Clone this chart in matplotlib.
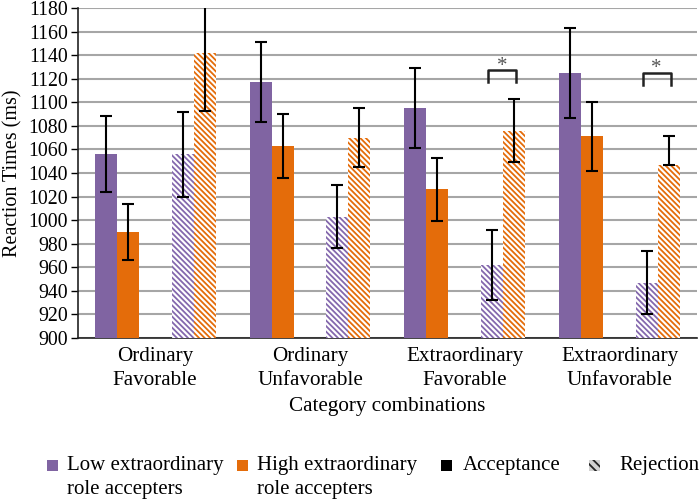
import matplotlib.pyplot as plt
from matplotlib.patches import Rectangle
import numpy as np

plt.rcParams['font.family'] = ['Liberation Serif', 'DejaVu Serif']
plt.rcParams['hatch.linewidth'] = 1.3

categories = ['Ordinary\nFavorable', 'Ordinary\nUnfavorable',
              'Extraordinary\nFavorable', 'Extraordinary\nUnfavorable']

# mean reaction times (ms)
low_acc = [1056, 1117, 1095, 1125]
high_acc = [990, 1063, 1026, 1071]
low_rej = [1056, 1003, 962, 947]
high_rej = [1142, 1070, 1076, 1047]

# error bar half-widths
low_acc_err = [32, 34, 34, 38]
high_acc_err = [24, 27, 27, 29]
low_rej_err = [36, 27, 30, 27]
high_rej_err = [49, 25, 27, 24]

purple = '#8064a2'
orange = '#e46c0a'

fig = plt.figure(figsize=(7, 5), dpi=100)
ax = fig.add_axes([0.111, 0.324, 0.885, 0.66])

x = np.arange(len(categories))
w = 0.142
offs = [-0.319, -0.177, 0.177, 0.319]
err_kw = dict(ecolor='black', elinewidth=1.5, capsize=4, capthick=1.5)
hatch = '\\\\\\\\\\\\'

ax.bar(x + offs[0], low_acc, w, color=purple, yerr=low_acc_err, error_kw=err_kw, zorder=3)
ax.bar(x + offs[1], high_acc, w, color=orange, yerr=high_acc_err, error_kw=err_kw, zorder=3)
ax.bar(x + offs[2], low_rej, w, color='white', edgecolor='#8468ad', hatch=hatch,
       linewidth=0, yerr=low_rej_err, error_kw=err_kw, zorder=3)
# last bar hides the lower half of its error bar
high_rej_lo = [e if i < 3 else 0 for i, e in enumerate(high_rej_err)]
ax.bar(x + offs[3], high_rej, w, color='white', edgecolor=orange, hatch=hatch,
       linewidth=0, yerr=[high_rej_lo, high_rej_err], error_kw=err_kw, zorder=3)

# significance brackets
for g, top in [(2, 1127), (3, 1125)]:
    xl = g + offs[2] - 0.03
    xr = g + offs[3] + 0.01
    ax.plot([xl, xl, xr, xr], [top - 10, top, top, top - 10], color='#222222', lw=1.8,
            zorder=4, clip_on=False)
    ax.text((xl + xr) / 2, top + 3.5, '*', ha='center', va='center', fontsize=15,
            color='#555555')

ax.set_xlim(-0.5, 3.5)
ax.set_ylim(900, 1180)
ax.set_yticks(np.arange(900, 1181, 20))
ax.set_xticks(x)
ax.set_xticklabels(categories, fontsize=15.2, linespacing=1.35)
ax.tick_params(axis='y', labelsize=14.3, length=5, width=1, pad=2)
ax.tick_params(axis='x', length=0, pad=6.5)
ax.yaxis.grid(True, color='#a6a6a6', lw=1.5, zorder=0)
ax.set_axisbelow(True)
for s in ['top', 'right']:
    ax.spines[s].set_visible(False)
ax.spines['left'].set_color('#222222')
ax.spines['bottom'].set_color('#222222')
ax.spines['left'].set_linewidth(1.2)
ax.spines['bottom'].set_linewidth(1.2)

ax.set_ylabel('Reaction Times (ms)', fontsize=14.5, labelpad=4)
ax.set_xlabel('Category combinations', fontsize=15.2, labelpad=5)

# legend drawn by hand so the keys sit on the first text line
W, H = 700.0, 500.0
leg_fs = 15
leg_items = [
    (47, 67, 'Low extraordinary\nrole accepters', dict(facecolor=purple)),
    (237, 257, 'High extraordinary\nrole accepters', dict(facecolor=orange)),
    (441, 463, 'Acceptance', dict(facecolor='black')),
    (589, 619, 'Rejection', dict(facecolor='#d0d0d0', edgecolor='#222222', hatch='\\\\\\\\')),
]
for kx, tx, label, style in leg_items:
    fig.patches.append(Rectangle((kx / W, 1 - 471 / H), 11 / W, 11 / H,
                                 transform=fig.transFigure, linewidth=0, **style))
    fig.text(tx / W, 1 - 456 / H, label, fontsize=leg_fs, va='top', ha='left',
             linespacing=1.35)

fig.savefig('out.png', dpi=100)
